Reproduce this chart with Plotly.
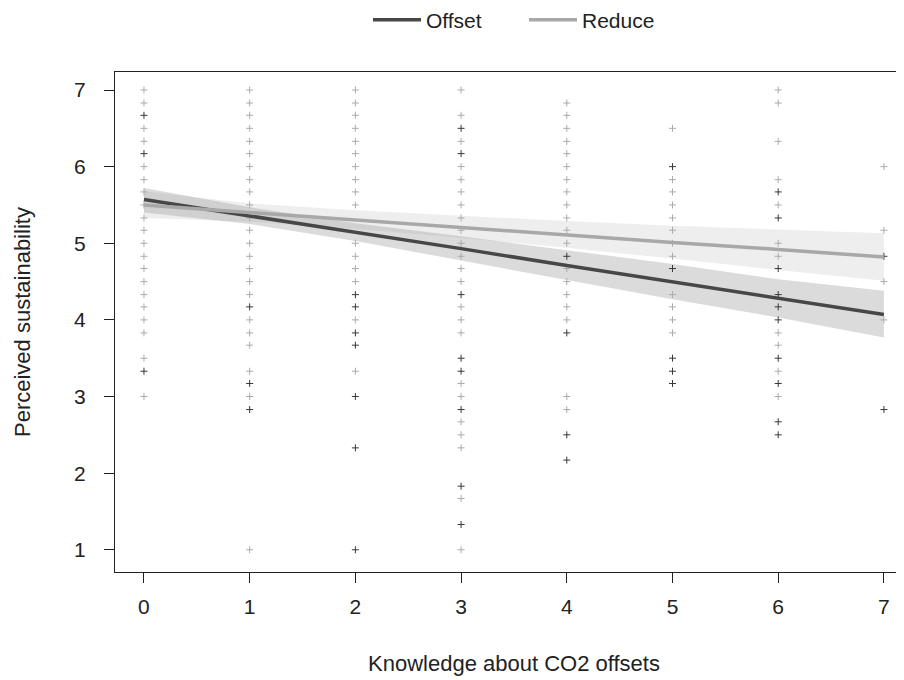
import plotly.graph_objects as go

# ---- data ----
knowledge_levels = [0, 1, 2, 3, 4, 5, 6, 7]

reduce_points = {
    0: [7, 6.83, 6.5, 6.33, 6, 5.83, 5.67, 5.5, 5.33, 5.17, 5, 4.83, 4.67, 4.5, 4.33, 4.17, 4, 3.83, 3.5, 3],
    1: [7, 6.83, 6.67, 6.5, 6.33, 6.17, 6, 5.83, 5.67, 5.5, 5.33, 5.17, 5, 4.83, 4.67, 4.5, 4.33, 4, 3.83, 3.67, 3.33, 3, 1],
    2: [7, 6.83, 6.67, 6.5, 6.33, 6.17, 6, 5.83, 5.67, 5.5, 5, 4.83, 4.67, 4.5, 4, 3.33],
    3: [7, 6.67, 6.33, 6, 5.83, 5.67, 5.5, 5.33, 5.17, 5, 4.83, 4.67, 4.5, 4.17, 4, 3.83, 3.17, 3, 2.67, 2.5, 2.33, 1.67, 1],
    4: [6.83, 6.67, 6.5, 6.33, 6.17, 6, 5.83, 5.67, 5.5, 5.33, 5.17, 5, 4.67, 4.5, 4.33, 4.17, 4, 3, 2.83],
    5: [6.5, 5.83, 5.67, 5.5, 5.33, 5.17, 5, 4.83, 4.33, 4.17, 4, 3.83],
    6: [7, 6.83, 6.33, 5.83, 5.5, 5, 4.83, 3.83, 3.67, 3.33, 3],
    7: [6, 5.17, 4.5, 4],
}
offset_points = {
    0: [6.67, 6.17, 3.33],
    1: [4.17, 3.17, 2.83],
    2: [4.33, 4.17, 3.83, 3.67, 3, 2.33, 1],
    3: [6.5, 6.17, 4.33, 3.5, 3.33, 2.83, 1.83, 1.33],
    4: [4.83, 3.83, 2.5, 2.17],
    5: [6, 4.67, 3.5, 3.33, 3.17],
    6: [5.67, 5.33, 4.67, 4.33, 4.17, 4, 3.5, 3.17, 2.67, 2.5],
    7: [4.83, 2.83],
}

offset_fit = [5.57, 5.36, 5.14, 4.93, 4.71, 4.50, 4.28, 4.07]
offset_lo = [5.40, 5.25, 5.03, 4.77, 4.52, 4.27, 4.03, 3.77]
offset_hi = [5.72, 5.47, 5.26, 5.09, 4.91, 4.73, 4.53, 4.38]

reduce_fit = [5.50, 5.40, 5.31, 5.21, 5.11, 5.01, 4.92, 4.82]
reduce_lo = [5.33, 5.28, 5.19, 5.07, 4.94, 4.80, 4.65, 4.51]
reduce_hi = [5.68, 5.52, 5.43, 5.36, 5.29, 5.23, 5.18, 5.13]

x_ticks = [0, 1, 2, 3, 4, 5, 6, 7]
y_ticks = [1, 2, 3, 4, 5, 6, 7]

# ---- figure ----
def flatten(d):
    xs, ys = [], []
    for k in knowledge_levels:
        for v in d[k]:
            xs.append(k)
            ys.append(v)
    return xs, ys

fig = go.Figure()

# confidence bands
fig.add_trace(go.Scatter(x=knowledge_levels, y=reduce_hi, mode="lines", line=dict(width=0),
                         showlegend=False, hoverinfo="skip"))
fig.add_trace(go.Scatter(x=knowledge_levels, y=reduce_lo, mode="lines", line=dict(width=0),
                         fill="tonexty", fillcolor="rgba(190,190,190,0.26)",
                         showlegend=False, hoverinfo="skip"))
fig.add_trace(go.Scatter(x=knowledge_levels, y=offset_hi, mode="lines", line=dict(width=0),
                         showlegend=False, hoverinfo="skip"))
fig.add_trace(go.Scatter(x=knowledge_levels, y=offset_lo, mode="lines", line=dict(width=0),
                         fill="tonexty", fillcolor="rgba(150,150,150,0.34)",
                         showlegend=False, hoverinfo="skip"))

# points
rx, ry = flatten(reduce_points)
ox, oy = flatten(offset_points)
fig.add_trace(go.Scatter(x=rx, y=ry, mode="markers", showlegend=False,
                         marker=dict(symbol="cross-thin", size=5,
                                     line=dict(color="#ababab", width=1))))
fig.add_trace(go.Scatter(x=ox, y=oy, mode="markers", showlegend=False,
                         marker=dict(symbol="cross-thin", size=5,
                                     line=dict(color="#383838", width=1))))

# fitted lines
fig.add_trace(go.Scatter(x=knowledge_levels, y=offset_fit, mode="lines", name="Offset",
                         line=dict(color="#474747", width=3.5), legend="legend"))
fig.add_trace(go.Scatter(x=knowledge_levels, y=reduce_fit, mode="lines", name="Reduce",
                         line=dict(color="#a8a8a8", width=3.5), legend="legend2"))

font = "Liberation Sans, Arial, sans-serif"
legend_common = dict(orientation="h", xanchor="left", y=1 + (64 - 12) / 500, yanchor="middle",
                     font=dict(size=21, color="#222222"), itemwidth=48,
                     bgcolor="rgba(0,0,0,0)")
fig.update_layout(
    width=896, height=672,
    margin=dict(l=107, r=0, t=64, b=108, autoexpand=False),
    plot_bgcolor="white", paper_bgcolor="white",
    font=dict(family=font, size=22, color="#222222"),
    showlegend=True,
    legend=dict(x=(368 - 115) / 789, **legend_common),
    legend2=dict(x=(524 - 115) / 789, **legend_common),
    xaxis=dict(range=[-0.274, 7.19], tickvals=x_ticks, ticks="outside", ticklen=10,
               tickcolor="#222222", showgrid=False, zeroline=False,
               showline=True, linecolor="#222222", linewidth=1, mirror=True,
               tickfont=dict(size=21), ticklabelstandoff=6),
    yaxis=dict(range=[0.71, 7.235], tickvals=y_ticks, ticks="outside", ticklen=10,
               tickcolor="#222222", showgrid=False, zeroline=False,
               showline=True, linecolor="#222222", linewidth=1, mirror=True,
               tickfont=dict(size=21), ticklabelstandoff=14),
    annotations=[
        dict(text="Knowledge about CO2 offsets", xref="paper", yref="paper",
             x=(506 - 107) / 789, y=-(655 - 564) / 500, xanchor="center", yanchor="middle",
             showarrow=False, font=dict(size=22)),
        dict(text="Perceived sustainability", xref="paper", yref="paper",
             x=-(107 - 14) / 789, y=0.5, xanchor="center", yanchor="middle",
             textangle=-90, showarrow=False, font=dict(size=22)),
    ],
)

fig.write_html("out.html")
